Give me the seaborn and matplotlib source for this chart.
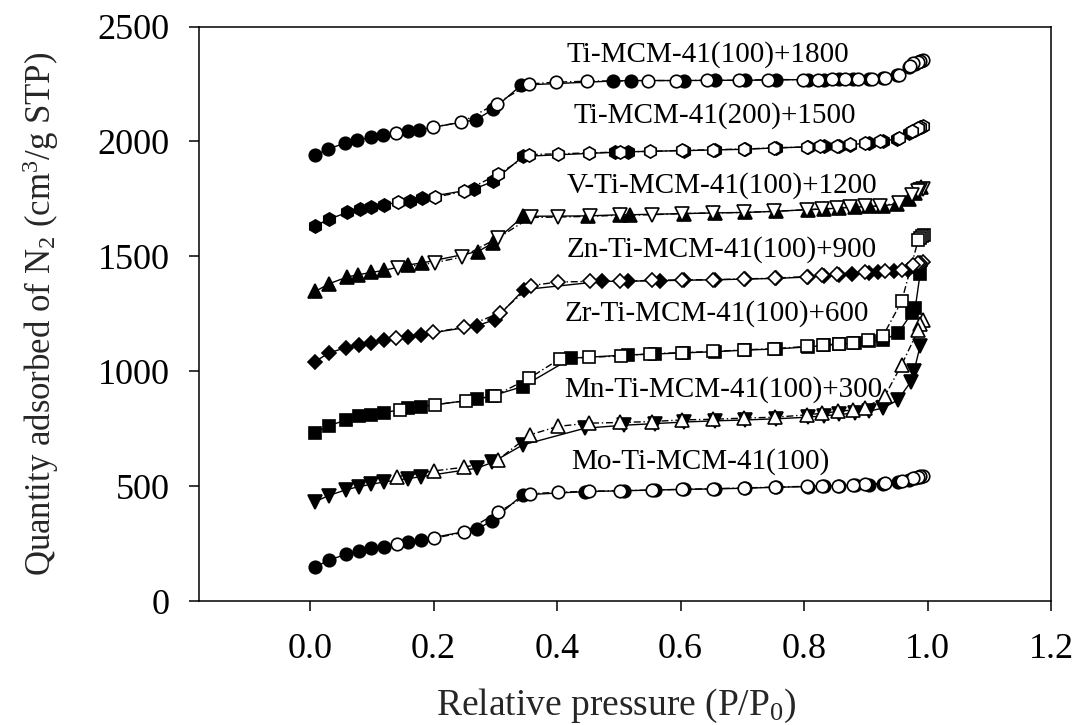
import matplotlib
matplotlib.use("Agg")
import matplotlib.pyplot as plt
from matplotlib.ticker import FormatStrFormatter
import seaborn as sns

# ---------------- data ----------------
X_TICKS = [0.0, 0.2, 0.4, 0.6, 0.8, 1.0, 1.2]
Y_TICKS = [0, 500, 1000, 1500, 2000, 2500]

LABELS = ["Mo-Ti-MCM-41(100)", "Mn-Ti-MCM-41(100)+300", "Zr-Ti-MCM-41(100)+600",
          "Zn-Ti-MCM-41(100)+900", "V-Ti-MCM-41(100)+1200", "Ti-MCM-41(200)+1500",
          "Ti-MCM-41(100)+1800"]
LABEL_X = [0.422, 0.412, 0.412, 0.415, 0.415, 0.426, 0.415]
LABEL_Y = [578, 890, 1221, 1500, 1778, 2082, 2348]

# Mo-Ti-MCM-41(100)
MO_ADS_P = [0.008, 0.030, 0.058, 0.079, 0.099, 0.119, 0.159, 0.179, 0.270, 0.295, 0.344, 0.445, 0.508,
            0.558, 0.606, 0.655, 0.705, 0.755, 0.806, 0.832, 0.857, 0.882, 0.905, 0.928, 0.952, 0.970,
            0.980, 0.988]
MO_ADS_Q = [147, 178, 203, 219, 229, 237, 257, 266, 312, 350, 462, 476, 480, 483, 486, 488, 491, 495,
            498, 501, 502, 504, 507, 510, 517, 527, 535, 540]
MO_DES_P = [0.993, 0.988, 0.985, 0.977, 0.958, 0.931, 0.899, 0.880, 0.855, 0.829, 0.804, 0.753, 0.703,
            0.653, 0.602, 0.553, 0.502, 0.452, 0.401, 0.356, 0.304, 0.249, 0.200, 0.141]
MO_DES_Q = [546, 542, 539, 534, 521, 513, 508, 505, 502, 501, 499, 496, 492, 489, 486, 483, 480, 478,
            473, 467, 386, 299, 273, 248]

# Mn-Ti-MCM-41(100)+300
MN_ADS_P = [0.008, 0.030, 0.058, 0.079, 0.099, 0.119, 0.159, 0.179, 0.270, 0.295, 0.344, 0.445, 0.508,
            0.558, 0.606, 0.655, 0.705, 0.755, 0.806, 0.832, 0.857, 0.882, 0.905, 0.928, 0.952, 0.973,
            0.978, 0.988]
MN_ADS_Q = [432, 459, 484, 498, 508, 518, 533, 541, 578, 603, 679, 752, 765, 772, 779, 784, 788, 793,
            800, 806, 812, 818, 826, 840, 875, 955, 1000, 1110]
MN_DES_P = [0.993, 0.988, 0.985, 0.958, 0.931, 0.899, 0.880, 0.855, 0.829, 0.804, 0.753, 0.703, 0.653,
            0.602, 0.553, 0.502, 0.452, 0.401, 0.356, 0.304, 0.249, 0.200, 0.141]
MN_DES_Q = [1222, 1205, 1180, 1028, 893, 839, 832, 825, 817, 810, 800, 796, 791, 788, 781, 777, 774,
            760, 723, 614, 582, 566, 541]

# Zr-Ti-MCM-41(100)+600
ZR_ADS_P = [0.008, 0.030, 0.058, 0.079, 0.099, 0.119, 0.159, 0.179, 0.270, 0.295, 0.344, 0.423, 0.515,
            0.558, 0.606, 0.655, 0.705, 0.755, 0.806, 0.832, 0.857, 0.882, 0.905, 0.928, 0.952, 0.975,
            0.980, 0.988]
ZR_ADS_Q = [733, 762, 788, 803, 810, 820, 838, 846, 878, 893, 933, 1057, 1071, 1075, 1080, 1085, 1092,
            1097, 1106, 1112, 1117, 1122, 1130, 1135, 1165, 1255, 1275, 1425]
ZR_DES_P = [0.994, 0.991, 0.988, 0.985, 0.958, 0.928, 0.904, 0.880, 0.856, 0.831, 0.804, 0.752, 0.702,
            0.653, 0.602, 0.551, 0.503, 0.451, 0.404, 0.355, 0.299, 0.253, 0.202, 0.146]
ZR_DES_Q = [1594, 1588, 1580, 1572, 1304, 1155, 1137, 1125, 1119, 1115, 1108, 1098, 1093, 1086, 1081,
            1076, 1066, 1061, 1053, 970, 893, 872, 854, 832]

# Zn-Ti-MCM-41(100)+900
ZN_ADS_P = [0.008, 0.030, 0.058, 0.079, 0.099, 0.119, 0.159, 0.179, 0.270, 0.299, 0.346, 0.472, 0.515,
            0.566, 0.606, 0.655, 0.705, 0.755, 0.806, 0.832, 0.857, 0.877, 0.905, 0.920, 0.945, 0.968,
            0.980, 0.988]
ZN_ADS_Q = [1042, 1079, 1103, 1115, 1125, 1134, 1148, 1159, 1198, 1224, 1355, 1391, 1392, 1394, 1396,
            1398, 1401, 1404, 1410, 1416, 1420, 1424, 1428, 1430, 1434, 1442, 1450, 1456]
ZN_DES_P = [0.993, 0.988, 0.985, 0.977, 0.958, 0.931, 0.899, 0.853, 0.829, 0.804, 0.753, 0.703, 0.653,
            0.602, 0.553, 0.502, 0.453, 0.401, 0.358, 0.307, 0.250, 0.199, 0.139]
ZN_DES_Q = [1474, 1472, 1469, 1463, 1442, 1434, 1430, 1424, 1420, 1412, 1405, 1402, 1398, 1398, 1395,
            1392, 1391, 1388, 1373, 1253, 1192, 1169, 1144]

# V-Ti-MCM-41(100)+1200
V_ADS_P = [0.008, 0.031, 0.060, 0.078, 0.099, 0.120, 0.159, 0.181, 0.272, 0.296, 0.345, 0.450, 0.502,
           0.518, 0.606, 0.655, 0.705, 0.755, 0.806, 0.832, 0.857, 0.882, 0.905, 0.928, 0.950, 0.970,
           0.980, 0.990]
V_ADS_Q = [1347, 1381, 1410, 1420, 1430, 1439, 1463, 1471, 1521, 1558, 1674, 1676, 1681, 1681, 1686,
           1689, 1691, 1696, 1703, 1706, 1710, 1714, 1717, 1720, 1728, 1750, 1775, 1800]
V_DES_P = [0.993, 0.988, 0.985, 0.975, 0.953, 0.923, 0.899, 0.875, 0.853, 0.829, 0.804, 0.752, 0.702,
           0.653, 0.602, 0.553, 0.502, 0.453, 0.401, 0.357, 0.304, 0.246, 0.203, 0.142]
V_DES_Q = [1795, 1788, 1783, 1768, 1732, 1720, 1717, 1715, 1710, 1706, 1703, 1696, 1691, 1689, 1686,
           1681, 1679, 1674, 1671, 1669, 1580, 1497, 1473, 1449]

# Ti-MCM-41(200)+1500
T2_ADS_P = [0.008, 0.031, 0.060, 0.080, 0.099, 0.120, 0.161, 0.181, 0.266, 0.296, 0.345, 0.494, 0.515,
            0.606, 0.655, 0.705, 0.755, 0.806, 0.832, 0.857, 0.875, 0.905, 0.928, 0.950, 0.970, 0.980,
            0.990]
T2_ADS_Q = [1633, 1662, 1691, 1706, 1715, 1725, 1742, 1754, 1793, 1826, 1935, 1953, 1955, 1960, 1963,
            1966, 1972, 1976, 1979, 1982, 1986, 1993, 2000, 2012, 2035, 2050, 2062]
T2_DES_P = [0.993, 0.988, 0.985, 0.975, 0.953, 0.923, 0.899, 0.875, 0.853, 0.826, 0.804, 0.752, 0.703,
            0.653, 0.602, 0.551, 0.502, 0.451, 0.401, 0.355, 0.305, 0.250, 0.202, 0.142]
T2_DES_Q = [2066, 2062, 2059, 2044, 2015, 2000, 1993, 1988, 1982, 1979, 1976, 1972, 1967, 1964, 1961,
            1957, 1954, 1950, 1946, 1943, 1858, 1783, 1757, 1735]

# Ti-MCM-41(100)+1800
T1_ADS_P = [0.008, 0.029, 0.057, 0.076, 0.098, 0.118, 0.158, 0.177, 0.269, 0.296, 0.342, 0.491, 0.520,
            0.606, 0.655, 0.705, 0.755, 0.806, 0.832, 0.857, 0.880, 0.905, 0.928, 0.950, 0.970, 0.980,
            0.990]
T1_ADS_Q = [1939, 1967, 1993, 2005, 2018, 2030, 2044, 2051, 2095, 2139, 2245, 2263, 2265, 2265, 2266,
            2266, 2268, 2269, 2269, 2270, 2271, 2272, 2275, 2288, 2322, 2338, 2350]
T1_DES_P = [0.993, 0.988, 0.985, 0.977, 0.972, 0.953, 0.931, 0.910, 0.888, 0.867, 0.845, 0.823, 0.799,
            0.742, 0.694, 0.642, 0.593, 0.548, 0.448, 0.399, 0.355, 0.302, 0.245, 0.199, 0.139]
T1_DES_Q = [2356, 2350, 2345, 2340, 2327, 2291, 2276, 2273, 2272, 2270, 2270, 2269, 2269, 2269, 2266,
            2266, 2265, 2265, 2262, 2258, 2250, 2165, 2083, 2063, 2037]

# ---------------- style ----------------
sns.set_style("ticks")
plt.rcParams["font.family"] = ["Liberation Serif", "DejaVu Serif"]
plt.rcParams["mathtext.fontset"] = "custom"
plt.rcParams["mathtext.rm"] = "Liberation Serif"
plt.rcParams["mathtext.it"] = "Liberation Serif:italic"
plt.rcParams["mathtext.bf"] = "Liberation Serif:bold"

fig = plt.figure(figsize=(10.78, 7.25), dpi=100)
ax = fig.add_axes([0.1846, 0.171, 0.7904, 0.7924])

series = [
    (MO_ADS_P, MO_ADS_Q, MO_DES_P, MO_DES_Q, "o", "o", 9.0),
    (MN_ADS_P, MN_ADS_Q, MN_DES_P, MN_DES_Q, "v", "^", 9.5),
    (ZR_ADS_P, ZR_ADS_Q, ZR_DES_P, ZR_DES_Q, "s", "s", 8.5),
    (ZN_ADS_P, ZN_ADS_Q, ZN_DES_P, ZN_DES_Q, "D", "D", 7.6),
    (V_ADS_P, V_ADS_Q, V_DES_P, V_DES_Q, "^", "v", 9.5),
    (T2_ADS_P, T2_ADS_Q, T2_DES_P, T2_DES_Q, "h", "h", 9.5),
    (T1_ADS_P, T1_ADS_Q, T1_DES_P, T1_DES_Q, "o", "o", 9.0),
]

DES_DASH = (0, (5, 2, 1, 2))
for ap, aq, dp, dq, am, dm, ms in series:
    sns.lineplot(x=ap, y=aq, ax=ax, estimator=None, sort=False, legend=False,
                 color="black", linewidth=1.0, linestyle="-",
                 marker=am, markersize=ms, markerfacecolor="black",
                 markeredgecolor="black", markeredgewidth=1.2)
    sns.lineplot(x=dp, y=dq, ax=ax, estimator=None, sort=False, legend=False,
                 color="black", linewidth=1.0, linestyle=DES_DASH,
                 marker=dm, markersize=ms, markerfacecolor="white",
                 markeredgecolor="black", markeredgewidth=1.2)

for lab, lx, ly in zip(LABELS, LABEL_X, LABEL_Y):
    ax.text(lx, ly, lab, fontsize=21, ha="left", va="baseline", color="black")

ax.set_xlim(-0.18, 1.2)
ax.set_ylim(0, 2500)
ax.set_xticks(X_TICKS)
ax.set_yticks(Y_TICKS)
ax.xaxis.set_major_formatter(FormatStrFormatter("%.1f"))

for s in ax.spines.values():
    s.set_visible(True)
    s.set_linewidth(1.1)
    s.set_color("black")

ax.tick_params(direction="out", length=7, width=1.1, labelsize=26, pad=14,
               top=False, right=False, colors="black")
ax.tick_params(axis="x", pad=16)

ax.set_xlabel("Relative pressure (P/P$_0$)", fontsize=27)
ax.set_ylabel("Quantity adsorbed of N$_2$ (cm$^3$/g STP)", fontsize=25)
ax.xaxis.label.set_va("baseline")
ax.xaxis.set_label_coords(0.49, -0.1975)
ax.yaxis.set_label_coords(-0.162, 0.5)

fig.savefig("out.png", dpi=100)
